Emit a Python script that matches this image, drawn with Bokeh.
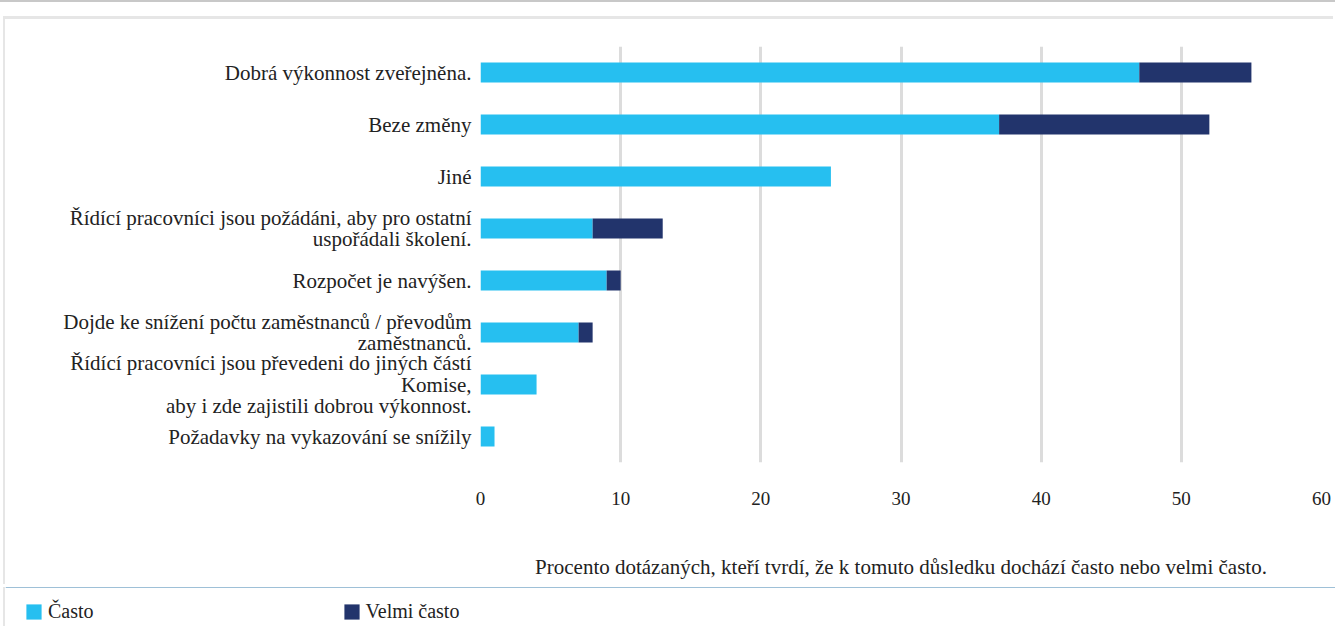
from bokeh.plotting import figure
from bokeh.models import Legend, LegendItem, FixedTicker, Div
from bokeh.embed import file_html
from bokeh.resources import INLINE

categories = [
    "Dobrá výkonnost zveřejněna.",
    "Beze změny",
    "Jiné",
    "Řídící pracovníci jsou požádáni, aby pro ostatní\nuspořádali školení.",
    "Rozpočet je navýšen.",
    "Dojde ke snížení počtu zaměstnanců / převodům\nzaměstnanců.",
    "Řídící pracovníci jsou převedeni do jiných částí\nKomise,\naby i zde zajistili dobrou výkonnost.",
    "Požadavky na vykazování se snížily",
]
casto = [47, 37, 25, 8, 9, 7, 4, 1]
velmi_casto = [8, 15, 0, 5, 1, 1, 0, 0]
x_ticks = [0, 10, 20, 30, 40, 50, 60]
series_names = ["Často", "Velmi často"]
colors = ["#26bff0", "#22346c"]

FONT = "Liberation Serif"
TXT = "#222222"

p = figure(
    width=1330, height=568,
    y_range=list(reversed(categories)),
    x_range=(0, 60),
    output_backend="svg", toolbar_location=None,
    min_border_left=475, min_border_right=14, min_border_top=27, min_border_bottom=125,
)
p.styles = {"box-shadow": "-2px -3px 0 0 #e6e6e6", "margin-left": "5px", "overflow": "hidden"}
p.outline_line_color = None
p.background_fill_color = "white"
p.border_fill_color = "white"

src = dict(cat=categories, c=casto, v=velmi_casto)
rs = p.hbar_stack(["c", "v"], y="cat", height=0.38, color=colors, source=src, line_width=0)

p.xgrid.grid_line_color = "#dcdcdc"
p.xgrid.grid_line_width = 3
p.ygrid.grid_line_color = None

p.xaxis.ticker = FixedTicker(ticks=x_ticks)
p.xaxis.axis_line_color = None
p.xaxis.major_tick_line_color = None
p.xaxis.minor_tick_line_color = None
p.xaxis.major_label_text_font = FONT
p.xaxis.major_label_text_font_size = "19px"
p.xaxis.major_label_text_color = TXT
p.xaxis.major_label_standoff = 23
p.xaxis.axis_label = "Procento dotázaných, kteří tvrdí, že k tomuto důsledku dochází často nebo velmi často."
p.xaxis.axis_label_text_font = FONT
p.xaxis.axis_label_text_font_style = "normal"
p.xaxis.axis_label_text_font_size = "21px"
p.xaxis.axis_label_text_color = TXT
p.xaxis.axis_label_standoff = 47

p.yaxis.axis_line_color = None
p.yaxis.major_tick_line_color = None
p.yaxis.minor_tick_line_color = None
p.yaxis.major_label_text_font = FONT
p.yaxis.major_label_text_font_size = "21px"
p.yaxis.major_label_text_color = TXT
p.yaxis.major_label_text_line_height = 0.9
p.yaxis.major_label_standoff = 3

# legend strip below the chart (separate root so its frame is not aligned)
lf = figure(
    width=1330, height=39, x_range=(0, 1), y_range=(0, 1),
    output_backend="svg", toolbar_location=None,
    min_border_left=0, min_border_right=0, min_border_top=0, min_border_bottom=0,
)
lf.styles = {"box-shadow": "-2px 0 0 0 #e6e6e6", "margin-left": "5px", "overflow": "hidden"}
lf.xaxis.visible = False
lf.yaxis.visible = False
lf.xgrid.visible = False
lf.ygrid.visible = False
lf.outline_line_color = None
lf.border_fill_color = "white"
lf.background_fill_color = "white"
lr = [lf.hbar(y=[5], left=[0], right=[1], height=0.1, color=c, line_width=0) for c in colors]

legend = Legend(
    items=[LegendItem(label=series_names[0], renderers=[lr[0]]),
           LegendItem(label=series_names[1], renderers=[lr[1]])],
    orientation="horizontal",
    location=(19, 3),
    spacing=248,
    padding=0, margin=0,
    glyph_width=19, glyph_height=19, label_standoff=5,
    label_text_font=FONT, label_text_font_size="20px", label_text_color=TXT,
    border_line_color=None, background_fill_alpha=0,
)
lf.add_layout(legend, "center")

top = Div(width=1335, height=19, margin=0,
          styles={"border-top": "2px solid #c8c8c8", "box-sizing": "border-box"})

open("out.html", "w").write(file_html([top, p, lf], INLINE))
